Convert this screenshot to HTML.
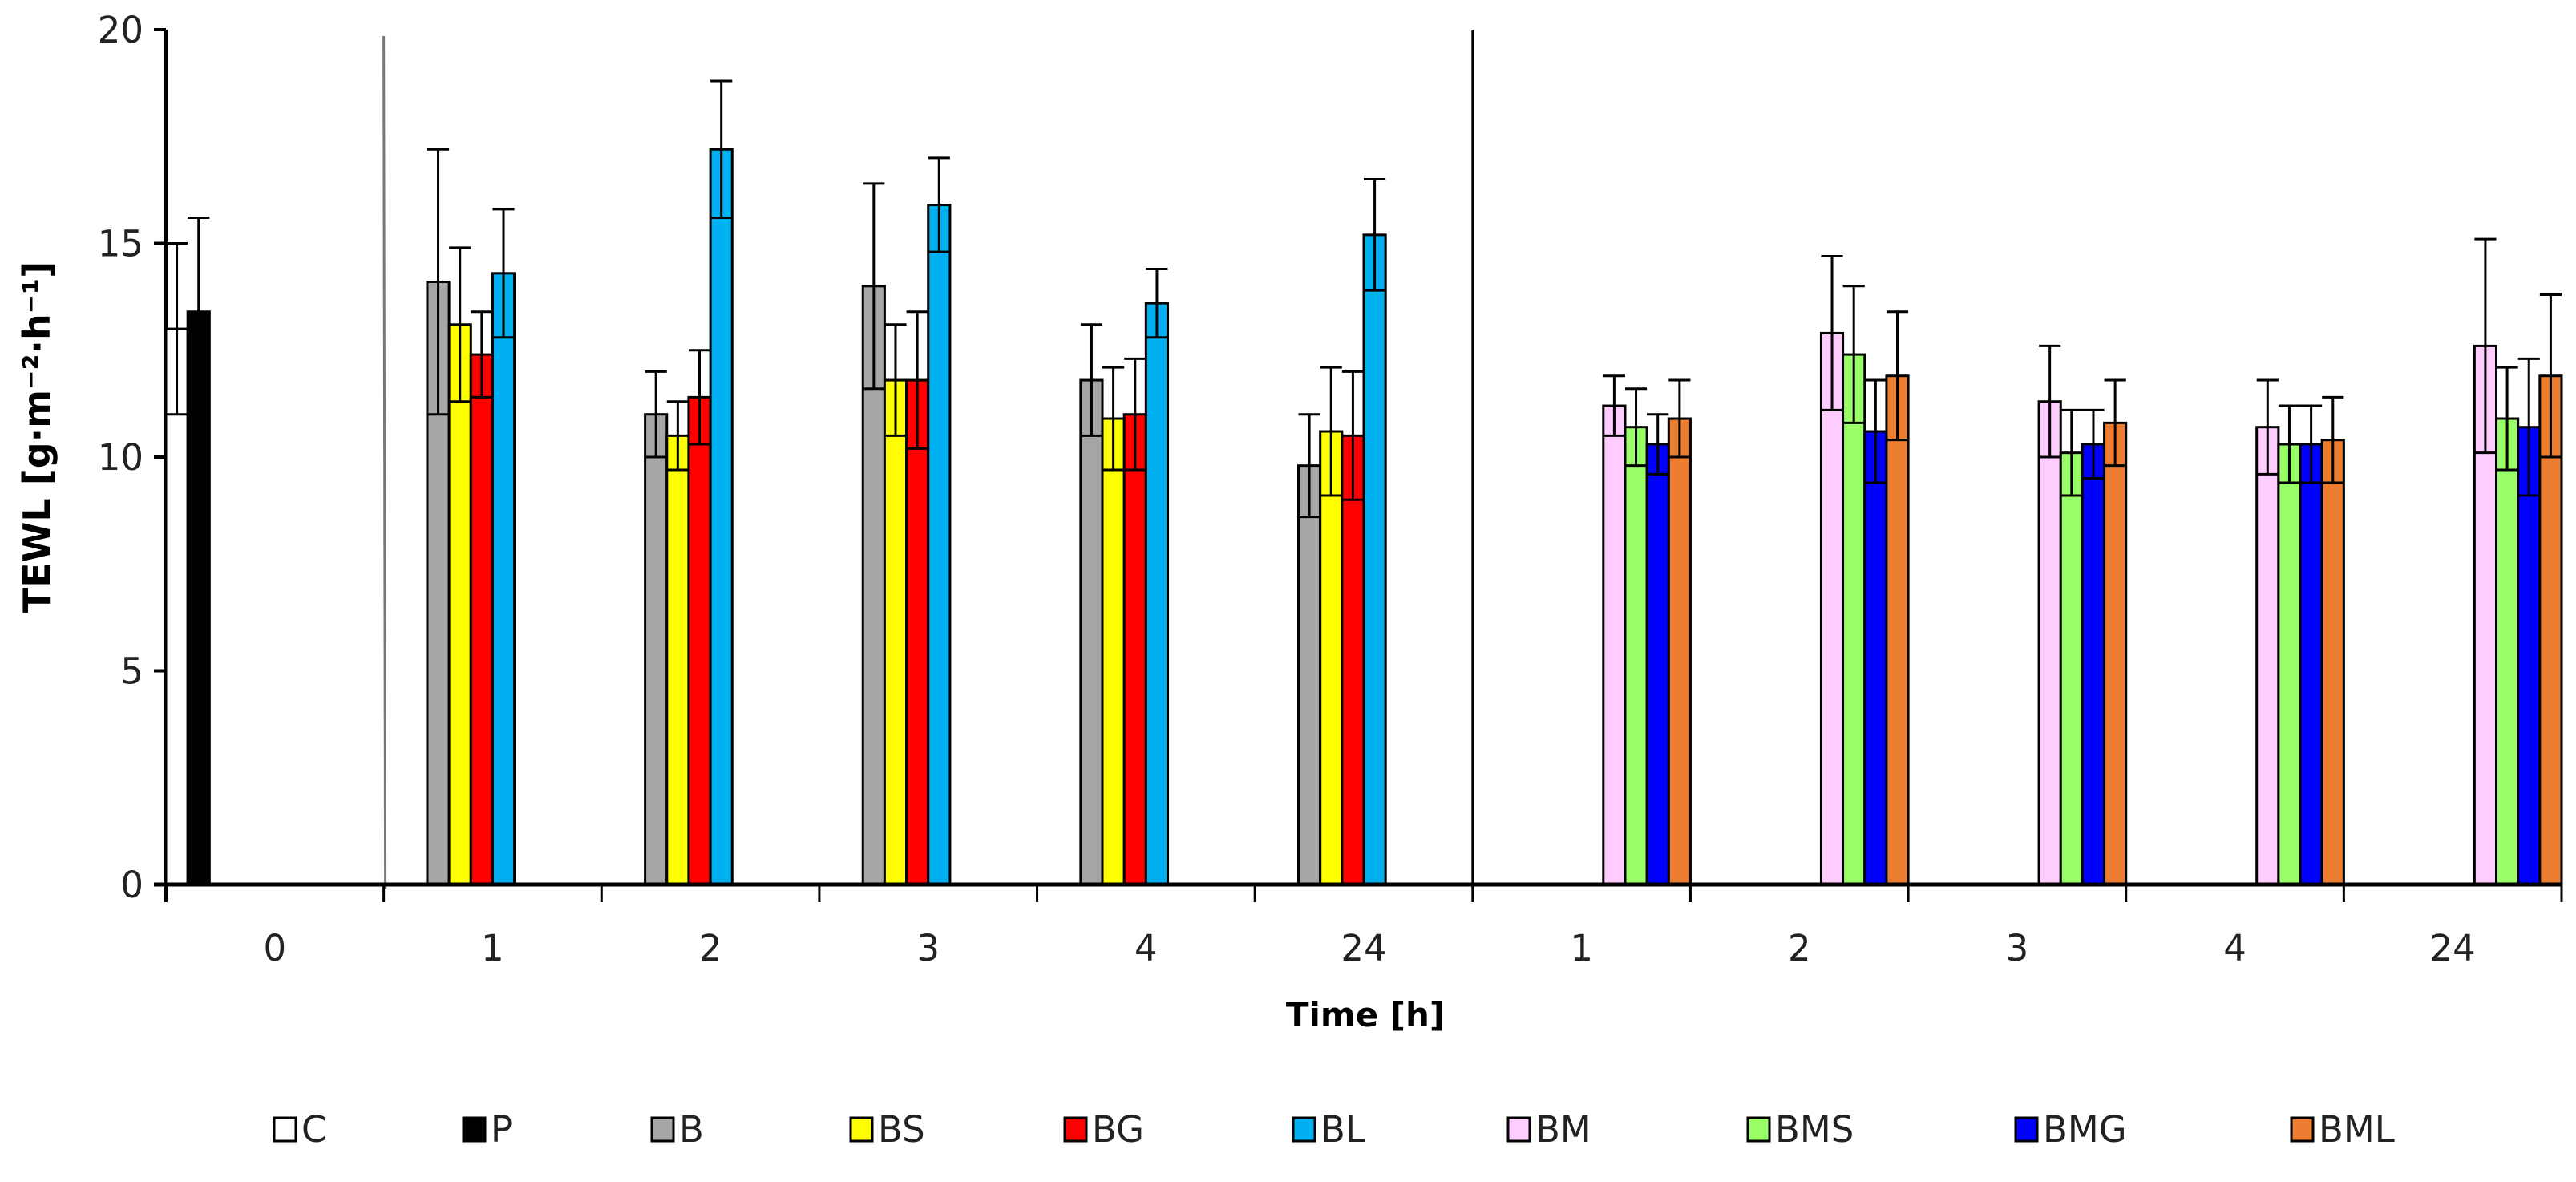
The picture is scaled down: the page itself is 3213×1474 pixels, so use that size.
<!DOCTYPE html>
<html><head><meta charset="utf-8"><style>
html,body{margin:0;padding:0;background:#fff;}
svg{display:block;font-family:"DejaVu Sans","Liberation Sans",sans-serif;}
</style></head><body>
<svg id="chart" width="3213" height="1474" viewBox="0 0 3213 1474" xmlns="http://www.w3.org/2000/svg">
<text transform="translate(62,545) rotate(-90)" text-anchor="middle" font-size="46" font-weight="bold">TEWL [g·m⁻²·h⁻¹]</text>
<text x="1703" y="1280" text-anchor="middle" font-size="42" font-weight="bold">Time [h]</text>
<g id="plot"></g>
<g id="legend"></g>
</svg>
<script>
const categories = ["0","1","2","3","4","24","1","2","3","4","24"];
const seriesNames = ["C","P","B","BS","BG","BL","BM","BMS","BMG","BML"];
const seriesColors = ["#FFFFFF","#000000","#A6A6A6","#FFFF00","#FF0000","#00B0F0","#FFCCFF","#99FF66","#0000FF","#ED7D31"];
const yTicks = [0,5,10,15,20];
const valC   = [13.0,null,null,null,null,null,null,null,null,null,null];
const valP   = [13.4,null,null,null,null,null,null,null,null,null,null];
const valB   = [null,14.1,11.0,14.0,11.8,9.8,null,null,null,null,null];
const valBS  = [null,13.1,10.5,11.8,10.9,10.6,null,null,null,null,null];
const valBG  = [null,12.4,11.4,11.8,11.0,10.5,null,null,null,null,null];
const valBL  = [null,14.3,17.2,15.9,13.6,15.2,null,null,null,null,null];
const valBM  = [null,null,null,null,null,null,11.2,12.9,11.3,10.7,12.6];
const valBMS = [null,null,null,null,null,null,10.7,12.4,10.1,10.3,10.9];
const valBMG = [null,null,null,null,null,null,10.3,10.6,10.3,10.3,10.7];
const valBML = [null,null,null,null,null,null,10.9,11.9,10.8,10.4,11.9];
const errC   = [2.0,null,null,null,null,null,null,null,null,null,null];
const errP   = [2.2,null,null,null,null,null,null,null,null,null,null];
const errB   = [null,3.1,1.0,2.4,1.3,1.2,null,null,null,null,null];
const errBS  = [null,1.8,0.8,1.3,1.2,1.5,null,null,null,null,null];
const errBG  = [null,1.0,1.1,1.6,1.3,1.5,null,null,null,null,null];
const errBL  = [null,1.5,1.6,1.1,0.8,1.3,null,null,null,null,null];
const errBM  = [null,null,null,null,null,null,0.7,1.8,1.3,1.1,2.5];
const errBMS = [null,null,null,null,null,null,0.9,1.6,1.0,0.9,1.2];
const errBMG = [null,null,null,null,null,null,0.7,1.2,0.8,0.9,1.6];
const errBML = [null,null,null,null,null,null,0.9,1.5,1.0,1.0,1.9];

const values = [valC,valP,valB,valBS,valBG,valBL,valBM,valBMS,valBMG,valBML];
const errors = [errC,errP,errB,errBS,errBG,errBL,errBM,errBMS,errBMG,errBML];

const NS = "http://www.w3.org/2000/svg";
const X0 = 207, X1 = 3195, Y0 = 1103, YT = 37, YMAX = 20;
const catW = (X1 - X0) / categories.length;
const slotW = catW / seriesNames.length;
function yScale(v){ return Y0 - (v / YMAX) * (Y0 - YT); }
function xCat(i){ return X0 + i * catW; }
function mk(tag, attrs, parent){ const e = document.createElementNS(NS, tag); for (const k in attrs) e.setAttribute(k, attrs[k]); parent.appendChild(e); return e; }
const plot = document.getElementById('plot');
const legend = document.getElementById('legend');

let sep1 = mk('line',{x1:xCat(1),y1:45,x2:xCat(1)+2,y2:Y0+5,stroke:'#777','stroke-width':3},plot);


let sep2 = mk('line',{x1:xCat(6),y1:37,x2:xCat(6),y2:Y0+5,stroke:'#000','stroke-width':3},plot);



let yAxis = mk('line',{x1:X0,y1:YT,x2:X0,y2:Y0+22,stroke:'#000','stroke-width':4},plot);


yTicks.forEach(t => {
  const y = yScale(t);
  const tk = mk('line',{x1:X0-15,y1:y,x2:X0,y2:y,stroke:'#000','stroke-width':4},plot);
  
  
  const lb = mk('text',{x:X0-28,y:y+16,'text-anchor':'end','font-size':45,fill:'#222'},plot);
  lb.textContent = t;
  
  
});

values.forEach((arr, s) => {
  arr.forEach((v, c) => {
    if (v === null) return;
    const x = xCat(c) + s * slotW;
    const r = mk('rect',{x:x,y:yScale(v),width:slotW,height:Y0-yScale(v),fill:seriesColors[s],stroke:'#000','stroke-width':3},plot);
    
    
  });
});
values.forEach((arr, s) => {
  arr.forEach((v, c) => {
    if (v === null) return;
    const e = errors[s][c];
    const cx = xCat(c) + (s + 0.5) * slotW;
    const g = mk('g',{stroke:'#000','stroke-width':3},plot);
    
    
    const yt = yScale(v+e), yb = yScale(v-e);
    mk('line',{x1:cx,y1:yt,x2:cx,y2:yb},g);
    mk('line',{x1:cx-slotW/2,y1:yt,x2:cx+slotW/2,y2:yt},g);
    mk('line',{x1:cx-slotW/2,y1:yb,x2:cx+slotW/2,y2:yb},g);
  });
});

let xAxis = mk('line',{x1:X0-15,y1:Y0,x2:X1,y2:Y0,stroke:'#000','stroke-width':5},plot);


for (let i = 0; i <= categories.length; i++) {
  const tk = mk('line',{x1:xCat(i),y1:Y0,x2:xCat(i),y2:Y0+22,stroke:'#000','stroke-width':3},plot);
  
  
}
categories.forEach((c, i) => {
  const lb = mk('text',{x:xCat(i)+catW/2,y:1198,'text-anchor':'middle','font-size':45,fill:'#222'},plot);
  lb.textContent = c;
  
  
});

const legendX = [342,578,813,1061,1328,1613,1881,2180,2514,2858];
seriesNames.forEach((n, s) => {
  const g = mk('g',{},legend);
  
  
  mk('rect',{x:legendX[s],y:1394,width:27,height:29,fill:seriesColors[s],stroke:'#000','stroke-width':3},g);
  const t = mk('text',{x:legendX[s]+34,y:1424,'font-size':45,fill:'#222'},g);
  t.textContent = n;
});
</script>
</body></html>
